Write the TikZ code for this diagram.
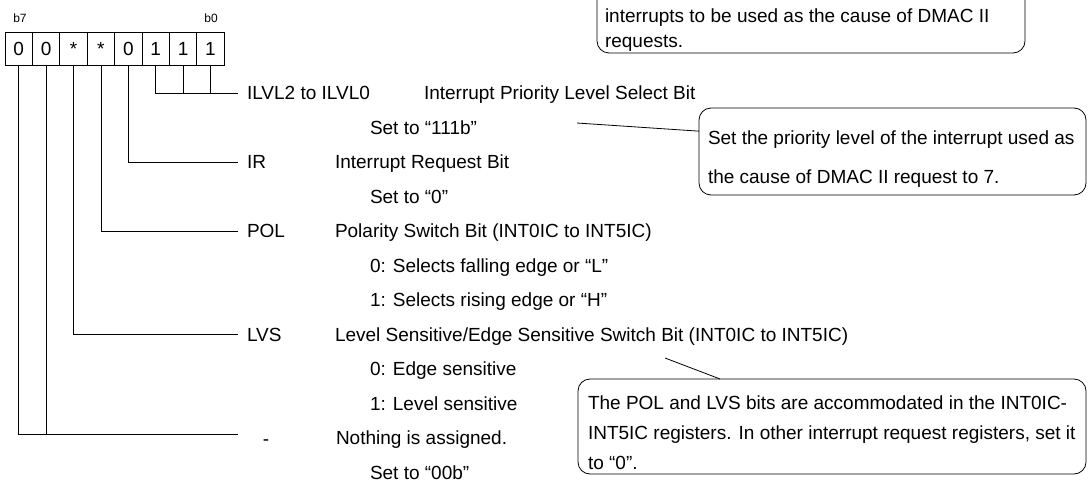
\documentclass[tikz,border=0pt]{standalone}
\usepackage{fontspec}
\setmainfont{Liberation Sans}
\begin{document}
\begin{tikzpicture}[x=1pt,y=-1pt,
  every node/.style={inner sep=0pt, outer sep=0pt},
  cell/.style={draw, line width=0.8pt, minimum width=27.4pt, minimum height=33pt, font=\fontsize{19}{22}\selectfont},
  bitno/.style={font=\fontsize{12}{14}\selectfont},
  lbl/.style={anchor=base west, inner xsep=9pt, font=\fontsize{19}{22}\selectfont},
  txt/.style={anchor=base west, font=\fontsize{19}{22}\selectfont},
  wire/.style={line width=0.8pt},
  callout/.style={draw, line width=0.8pt, rounded corners=12pt, anchor=north west},
]
\useasboundingbox (0,0) rectangle (1091,495);
\clip (0,0) rectangle (1091,495);

% bit numbers
\node[bitno] (b7) at (20,18) {b7};
\node[bitno] (b0) at (211,18) {b0};

% register cells
\node[cell] (c7) at (18.7,48.5) {0};
\node[cell] (c6) at (46.1,48.5) {0};
\node[cell] (c5) at (73.5,48.5) {*};
\node[cell] (c4) at (100.9,48.5) {*};
\node[cell] (c3) at (128.3,48.5) {0};
\node[cell] (c2) at (155.7,48.5) {1};
\node[cell] (c1) at (183.1,48.5) {1};
\node[cell] (c0) at (210.5,48.5) {1};

% bit symbols
\node[lbl] (ilvl) at (238,99.8) {ILVL2 to ILVL0};
\node[lbl] (ir)   at (238,168.8) {IR};
\node[lbl] (pol)  at (238,237.8) {POL};
\node[lbl] (lvs)  at (238,341.3) {LVS};
\node[anchor=base, font=\fontsize{19}{22}\selectfont] (nil) at (266,445.5) {-};
\coordinate (nb) at (238,434);

% descriptions
\node[txt] (d1)  at (424,99.8)  {Interrupt Priority Level Select Bit};
\node[txt] (d1a) at (370,134.3) {Set to “111b”};
\node[txt] (d2)  at (335,168.8) {Interrupt Request Bit};
\node[txt] (d2a) at (370,203.3) {Set to “0”};
\node[txt] (d3)  at (335,237.8) {Polarity Switch Bit (INT0IC to INT5IC)};
\node[txt] (d3a) at (370,272.3) {0: Selects falling edge or “L”};
\node[txt] (d3b) at (370,306.8) {1: Selects rising edge or “H”};
\node[txt] (d4)  at (335,341.3) {Level Sensitive/Edge Sensitive Switch Bit (INT0IC to INT5IC)};
\node[txt] (d4a) at (370,375.8) {0: Edge sensitive};
\node[txt] (d4b) at (370,410.3) {1: Level sensitive};
\node[txt] (d5)  at (336,444.8) {Nothing is assigned.};
\node[txt] (d5a) at (370,479.3) {Set to “00b”};

% connectors from bits
\draw[wire] (c2.south) |- (ilvl.west);
\draw[wire] (c1.south) -- (c1.south |- ilvl.west);
\draw[wire] (c0.south) -- (c0.south |- ilvl.west);
\draw[wire] (c3.south) |- (ir.west);
\draw[wire] (c4.south) |- (pol.west);
\draw[wire] (c5.south) |- (lvs.west);
\draw[wire] (c7.south) |- (nb);
\draw[wire] (c6.south) -- (c6.south |- nb);

% callout 1 (top, cut off)
\node[callout, minimum width=428pt, minimum height=93pt] (co1) at (597,-40) {};
\node[txt] (co1a) at (605,23)  {interrupts to be used as the cause of DMAC II};
\node[txt] (co1b) at (605,48)  {requests.};

% callout 2
\node[callout, minimum width=387pt, minimum height=87pt] (co2) at (699,108) {};
\node[txt] (co2a) at (708,144.8) {Set the priority level of the interrupt used as};
\node[txt] (co2b) at (708,183.8) {the cause of DMAC II request to 7.};
\coordinate (p2) at (577,123);
\draw[wire] (p2) -- (co2.174);

% callout 3
\node[callout, minimum width=508pt, minimum height=95pt] (co3) at (578,379) {};
\node[txt] (co3a) at (588,409.8) {The POL and LVS bits are accommodated in the INT0IC-};
\node[txt] (co3b) at (588,439.3) {INT5IC registers. In other interrupt request registers, set it};
\node[txt] (co3c) at (588,469.8) {to “0”.};
\coordinate (p3) at (665,358);
\draw[wire] (p3) -- (co3.157);
\end{tikzpicture}
\end{document}
